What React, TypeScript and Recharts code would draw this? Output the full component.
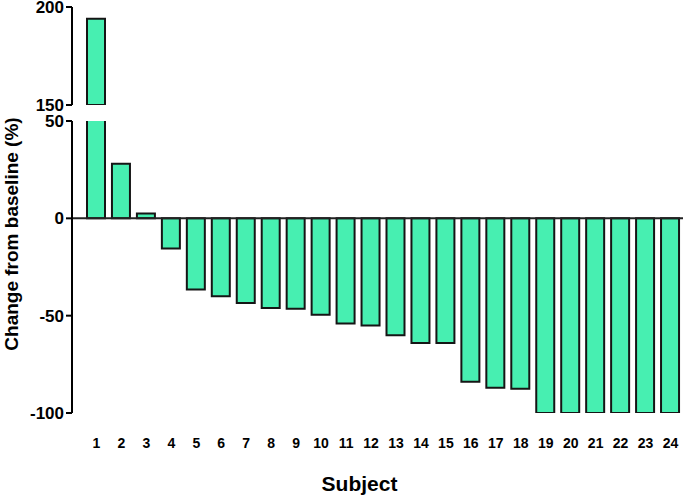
import React from 'react';
import { BarChart, Bar, XAxis, YAxis, ReferenceLine } from 'recharts';

const subjects = ['1', '2', '3', '4', '5', '6', '7', '8', '9', '10', '11', '12', '13', '14', '15', '16', '17', '18', '19', '20', '21', '22', '23', '24'];
const changes = [194, 28, 2.5, -15.5, -36.5, -40, -43.5, -46, -46.5, -49.5, -54, -55, -60, -64, -64, -84, -87, -87.5, -100, -100, -100, -100, -100, -100];
const upperTicks = [150, 200];
const lowerTicks = [-100, -50, 0, 50];

const BREAK_AT = 150;

const data = subjects.map((s, i) => ({
  subject: s,
  change: changes[i],
  upper: changes[i] > BREAK_AT ? changes[i] : null,
}));

const FONT = '"Liberation Sans", Arial, sans-serif';
const FILL = '#47EFB1';
const EDGE = '#151515';

const tickStyle = { fill: '#000', fontFamily: FONT, fontWeight: 700, fontSize: 17 };

const YLabel = () => (
  <text
    x={18}
    y={234}
    transform="rotate(-90 18 234)"
    textAnchor="middle"
    fill="#000"
    fontFamily={FONT}
    fontWeight={700}
    fontSize={19}
  >
    Change from baseline (%)
  </text>
);

const App: React.FC = () => {
  return (
    <div style={{ position: 'absolute', left: 0, top: 0, width: 685, height: 498, background: '#fff' }}>
      {/* lower segment: -100 .. 50 */}
      <div style={{ position: 'absolute', left: 0, top: 0 }}>
        <BarChart width={685} height={498} data={data} margin={{ top: 121, right: 2, bottom: 0, left: 0 }}>
          <XAxis
            dataKey="subject"
            axisLine={false}
            tickLine={false}
            interval={0}
            padding={{ left: 12, right: 0 }}
            height={85}
            tickMargin={19}
            tick={{ ...tickStyle, fontSize: 14 }}
            label={{ value: 'Subject', position: 'insideBottom', offset: 7, dx: -18, fill: '#000', fontFamily: FONT, fontWeight: 700, fontSize: 21 }}
          />
          <YAxis
            width={72}
            domain={[-100, 50]}
            ticks={lowerTicks}
            interval={0}
            allowDataOverflow
            axisLine={{ stroke: '#000', strokeWidth: 2 }}
            tickLine={{ stroke: '#000', strokeWidth: 2 }}
            tickSize={6}
            tick={tickStyle}
            label={{ content: () => <YLabel /> }}
          />
          <Bar dataKey="change" barSize={18} fill={FILL} stroke={EDGE} strokeWidth={2} isAnimationActive={false} />
          <ReferenceLine y={0} stroke="#222" strokeWidth={2} />
        </BarChart>
      </div>
      {/* upper segment: 150 .. 200 */}
      <div style={{ position: 'absolute', left: 0, top: 0 }}>
        <BarChart width={685} height={116} data={data} margin={{ top: 7, right: 2, bottom: 11, left: 0 }}>
          <XAxis dataKey="subject" hide padding={{ left: 12, right: 0 }} />
          <YAxis
            width={72}
            domain={[150, 200]}
            ticks={upperTicks}
            interval={0}
            allowDataOverflow
            axisLine={{ stroke: '#000', strokeWidth: 2 }}
            tickLine={{ stroke: '#000', strokeWidth: 2 }}
            tickSize={6}
            tick={tickStyle}
          />
          <Bar dataKey="upper" barSize={18} fill={FILL} stroke={EDGE} strokeWidth={2} isAnimationActive={false} />
        </BarChart>
      </div>
    </div>
  );
};

export default App;
